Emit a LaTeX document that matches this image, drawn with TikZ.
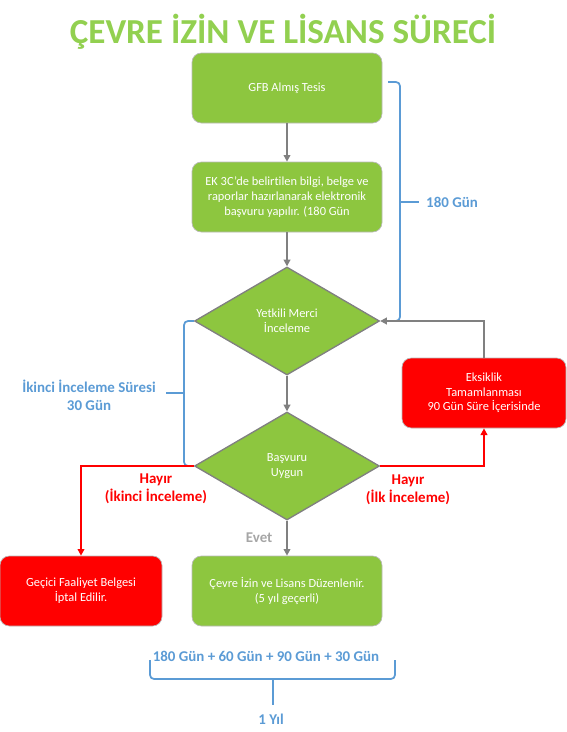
\documentclass[tikz,border=0pt]{standalone}
\usepackage{fontspec}
\setmainfont{Carlito}[Ligatures=NoCommon]
\usetikzlibrary{shapes.geometric, arrows.meta}

\definecolor{boxgreen}{RGB}{141,198,63}
\definecolor{titlegreen}{RGB}{146,208,80}
\definecolor{lineblue}{RGB}{91,155,213}
\definecolor{linegray}{RGB}{128,128,128}
\definecolor{evetgray}{RGB}{166,166,166}

\tikzset{
    stepbox/.style={rectangle, rounded corners=7pt, draw=gray!55, line width=0.5pt,
        fill=boxgreen, text=white, minimum width=142.5pt, minimum height=52.5pt,
        align=center, font=\fontsize{9.3}{11}\selectfont},
    redbox/.style={stepbox, fill=red},
    decision/.style={diamond, draw=linegray, line width=1pt, fill=boxgreen, text=white,
        minimum width=138.75pt, minimum height=81pt, inner sep=0pt, align=center,
        font=\fontsize{9.3}{11}\selectfont},
    flow/.style={linegray, line width=1.3pt, -{Triangle[length=5pt,width=5pt]}},
    noflow/.style={red, line width=1.3pt, -{Triangle[length=5pt,width=5pt]}},
    bracket/.style={lineblue, line width=1.3pt, rounded corners=3pt},
    bluelabel/.style={text=lineblue, align=center, font=\bfseries\fontsize{11.2}{13.5}\selectfont},
    redlabel/.style={bluelabel, text=red}
}

\begin{document}
\begin{tikzpicture}[x=0.75pt, y=-0.75pt]
    \useasboundingbox (0,0) rectangle (567,732);

    % title
    \node[anchor=base, text=titlegreen, font=\bfseries\fontsize{26.3}{30}\selectfont] (title) at (283,43) {ÇEVRE İZİN VE LİSANS SÜRECİ};

    % main column
    \node[stepbox] (gfb) at (287,88) {GFB Almış Tesis};
    \node[stepbox] (basvuru) at (287,197) {EK 3C'de belirtilen bilgi, belge ve\\raporlar hazırlanarak elektronik\\başvuru yapılır. (180 Gün};
    \node[decision] (merci) at (287,321) {Yetkili Merci\\İnceleme};
    \node[decision] (uygun) at (287,466) {Başvuru\\Uygun};
    \node[stepbox] (lisans) at (287,591) {Çevre İzin ve Lisans Düzenlenir.\\(5 yıl geçerli)};

    % side boxes
    \node[redbox, minimum width=123pt] (eksik) at (484,393) {Eksiklik\\Tamamlanması\\90 Gün Süre İçerisinde};
    \node[redbox, minimum width=121.5pt] (iptal) at (81,591) {Geçici Faaliyet Belgesi\\İptal Edilir.};

    % blue brackets
    \draw[bracket] (388,82) -| (400,321) -- (384,321);
    \draw[bracket] (400,202) -- (419,202);
    \draw[bracket] (merci.west) -- (184,321) |- (uygun.west);
    \draw[bracket] (184,393) -- (166,393);
    \draw[bracket] (150,660) |- (395,679) -- (395,660);
    \draw[bracket] (273,679) -- (273,705);

    % connectors
    \draw[flow] (gfb) -- (basvuru);
    \draw[flow] (basvuru) -- (merci);
    \draw[flow] (merci) -- (uygun);
    \draw[flow] (uygun) -- node[left=7pt, text=evetgray, font=\bfseries\fontsize{11.2}{13.5}\selectfont] (evet) {Evet} (lisans);
    \draw[flow] (eksik.north) |- (merci.east);
    \draw[noflow] (uygun.east) -| (eksik.south);
    \draw[noflow] (uygun.west) -| (iptal.north);

    % labels
    \node[bluelabel] (gun180) at (452,202) {180 Gün};
    \node[bluelabel] (ikinci) at (89,395) {İkinci İnceleme Süresi\\30 Gün};
    \node[redlabel] (hayir2) at (156,489) {Hayır\\(İkinci İnceleme)};
    \node[redlabel] (hayir1) at (408,490) {Hayır\\(İlk İnceleme)};
    \node[bluelabel] (toplam) at (266,656) {180 Gün + 60 Gün + 90 Gün + 30 Gün};
    \node[bluelabel] (yil) at (271,719) {1 Yıl};
\end{tikzpicture}
\end{document}
